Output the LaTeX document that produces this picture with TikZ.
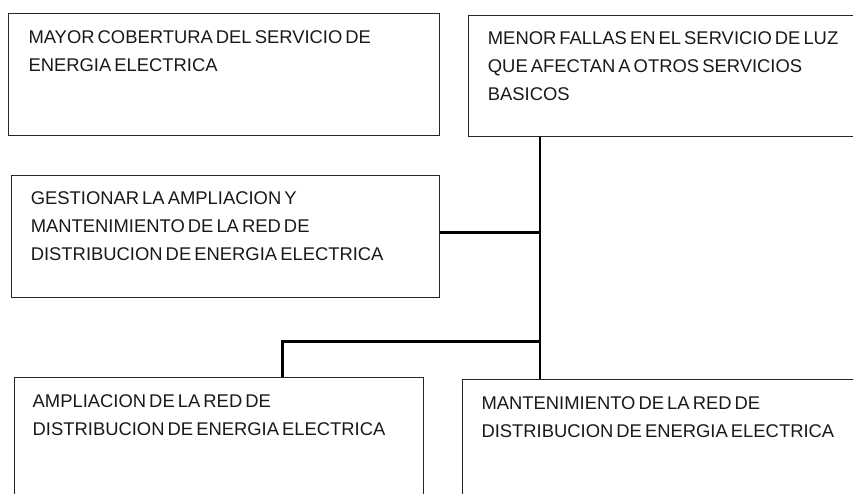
\documentclass[tikz,border=0pt]{standalone}
\usepackage{fontspec}
\setmainfont[WordSpace=0.6]{Liberation Sans}
\begin{document}
\begin{tikzpicture}[x=1pt,y=-1pt,
  boxst/.style={draw=black!85,line width=1.1pt,inner sep=0pt,anchor=north west},
  txt/.style={anchor=north west,inner sep=0pt,align=left,font=\fontsize{18.4}{28}\selectfont,text=black!90},
  conn/.style={line width=2.6pt,black}]
\useasboundingbox (0,0) rectangle (853,493);
\clip (0,0) rectangle (853,493);
% boxes
\node[boxst,minimum width=431pt,minimum height=122pt] (b1) at (8,13) {};
\node[boxst,minimum width=400pt,minimum height=120.7pt] (b2) at (467.7,15.3) {};
\node[boxst,minimum width=428pt,minimum height=122pt] (b3) at (11,175) {};
\node[boxst,minimum width=409.3pt,minimum height=140pt] (b4) at (14,377.3) {};
\node[boxst,minimum width=400pt,minimum height=140pt] (b5) at (462.3,379.3) {};
% texts
\node[txt] (t1) at (28.3,30) {MAYOR COBERTURA DEL SERVICIO DE\\ENERGIA ELECTRICA};
\node[txt] (t2) at (487.7,31.7) {MENOR FALLAS EN EL SERVICIO DE LUZ\\QUE AFECTAN A OTROS SERVICIOS\\BASICOS};
\node[txt] (t3) at (30.6,191.7) {GESTIONAR LA AMPLIACION Y\\MANTENIMIENTO DE LA RED DE\\DISTRIBUCION DE ENERGIA ELECTRICA};
\node[txt] (t4) at (32.5,394) {AMPLIACION DE LA RED DE\\DISTRIBUCION DE ENERGIA ELECTRICA};
\node[txt] (t5) at (481.3,396) {MANTENIMIENTO DE LA RED DE\\DISTRIBUCION DE ENERGIA ELECTRICA};
% connectors
\coordinate (j1) at (540,232.3);
\coordinate (j2) at (540,341.3);
\coordinate (j3) at (282.7,341.3);
\draw[conn] (b2.south -| j1) -- (b5.north -| j1);
\draw[conn] (b3.east |- j1) -- (j1);
\draw[conn] (j2) -- (j3) -- (j3 |- b4.north);
\end{tikzpicture}
\end{document}
